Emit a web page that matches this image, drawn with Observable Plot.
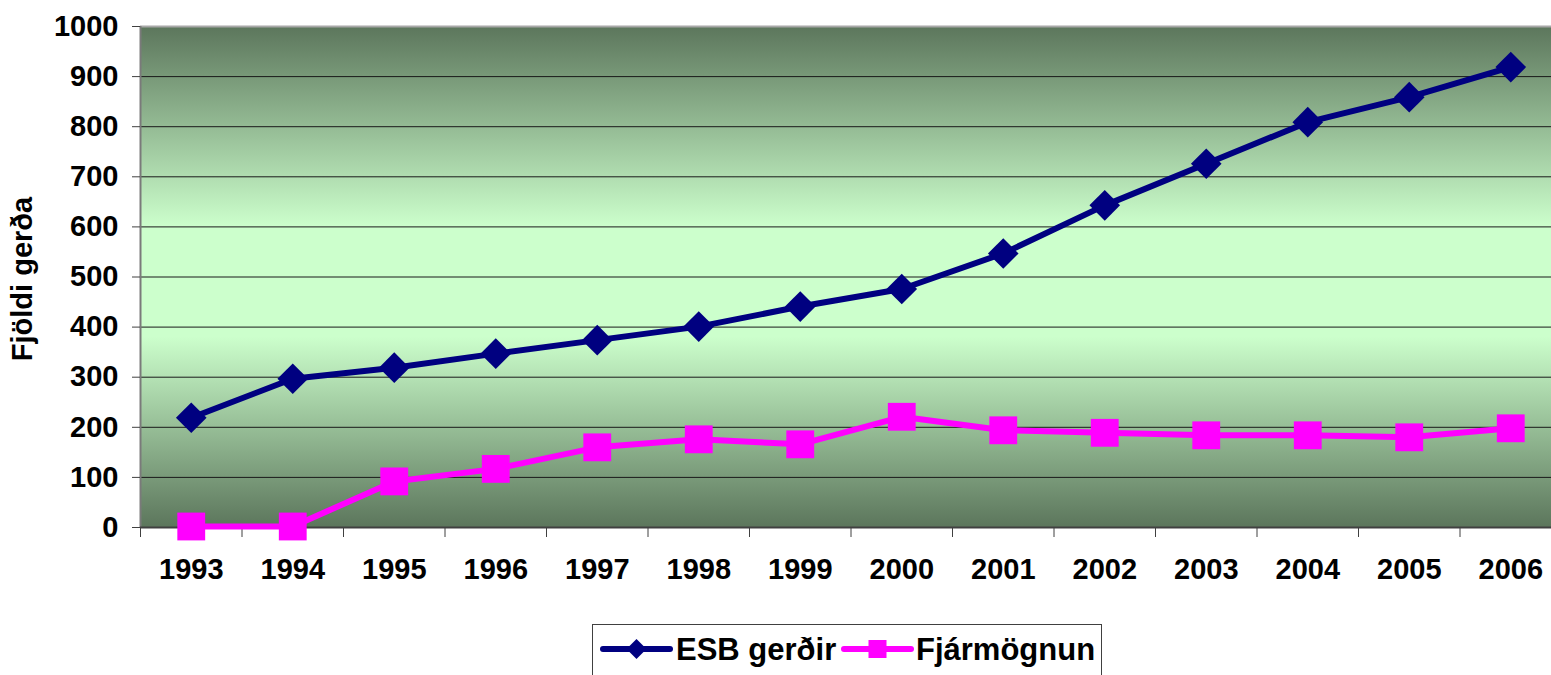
<!DOCTYPE html>
<html><head><meta charset="utf-8">
<script src="https://cdn.jsdelivr.net/npm/d3@7"></script>
<script src="https://cdn.jsdelivr.net/npm/@observablehq/plot@0.6"></script>
<style>
html,body{margin:0;padding:0;background:#fff;overflow:hidden;width:1551px;height:675px;}
#chart{position:absolute;left:0;top:0;width:1561px;}
#chart svg{max-width:none !important;}
#legend{position:absolute;left:0;top:0;}
</style></head><body>
<div id="chart"></div>
<div id="legend"></div>
<script>
const years = [1993,1994,1995,1996,1997,1998,1999,2000,2001,2002,2003,2004,2005,2006];
const esb   = [219,297,319,347,374,401,441,476,547,643,726,809,859,919];
const fjar  = [2,2,92,117,160,176,166,221,194,189,184,184,180,198];
const yTicks = [0,100,200,300,400,500,600,700,800,900,1000];
const seriesNames = ["ESB gerðir","Fjármögnun"];
const seriesColors = ["#000080","#ff00ff"];
const yLabel = "Fjöldi gerða";

const FONT = '"Liberation Sans", Arial, sans-serif';
const data = years.flatMap((yr, i) => [
  {year: yr, value: esb[i], series: seriesNames[0]},
  {year: yr, value: fjar[i], series: seriesNames[1]}
]);
const bounds = [...years.map(y => y - 0.5), years[years.length - 1] + 0.5];

const background = (index, scales, values, dims) => {
  const g = d3.create("svg:g");
  const lg = g.append("defs").append("linearGradient")
    .attr("id", "bggrad").attr("x1", 0).attr("y1", 0).attr("x2", 0).attr("y2", 1);
  [[0, "#5c765c"], [0.40, "#ccffcc"], [0.62, "#ccffcc"], [1, "#5c765c"]]
    .forEach(([o, c]) => lg.append("stop").attr("offset", o).attr("stop-color", c));
  g.append("rect")
    .attr("x", dims.marginLeft).attr("y", dims.marginTop)
    .attr("width", dims.width - dims.marginLeft - dims.marginRight)
    .attr("height", dims.height - dims.marginTop - dims.marginBottom)
    .attr("fill", "url(#bggrad)");
  return g.node();
};

const chart = Plot.plot({
  width: 1561, height: 610,
  marginLeft: 140, marginRight: 0, marginTop: 26, marginBottom: 83,
  style: {fontFamily: FONT, background: "#fff", color: "#000"},
  x: {type: "linear", domain: [bounds[0], bounds[bounds.length - 1]], axis: null},
  y: {domain: [0, 1000], axis: null},
  color: {domain: seriesNames, range: seriesColors},
  marks: [
    background,
    Plot.ruleY(yTicks.filter(d => d > 0 && d < 1000), {stroke: "#1a1a1a", strokeWidth: 1}),
    Plot.ruleY([1000], {stroke: "#a8a8a8", strokeWidth: 2}),
    Plot.ruleX([bounds[0]], {stroke: "#7a7a7a", strokeWidth: 2}),
    Plot.axisY({ticks: yTicks, tickSize: 8, tickPadding: 14, stroke: "#404040",
      fontSize: 29, fontWeight: "bold", fill: "#000", label: null, tickFormat: d => String(d)}),
    Plot.axisX({ticks: bounds, tickSize: 10, stroke: "#404040", tickFormat: () => "", label: null}),
    Plot.axisX({ticks: years, tickSize: 0, tickPadding: 31, fontSize: 29, fontWeight: "bold",
      fill: "#000", label: null, tickFormat: d => String(d)}),
    Plot.ruleY([0], {stroke: "#404040", strokeWidth: 2}),
    Plot.text([yLabel], {frameAnchor: "left", textAnchor: "middle", lineAnchor: "middle",
      rotate: -90, dx: -118, dy: 2, fontSize: 29, fontWeight: "bold", fill: "#000"}),
    Plot.line(data, {x: "year", y: "value", z: "series", stroke: "series", strokeWidth: 6}),
    Plot.dot(data.filter(d => d.series === seriesNames[0]),
      {x: "year", y: "value", symbol: "diamond2", r: 13.8, fill: seriesColors[0], stroke: null}),
    Plot.dot(data.filter(d => d.series === seriesNames[1]),
      {x: "year", y: "value", symbol: "square", r: 15.7, fill: seriesColors[1], stroke: null})
  ]
});
document.getElementById("chart").appendChild(chart);

// Legend (below the chart)
const leg = d3.select("#legend").append("svg")
  .attr("width", 1551).attr("height", 675)
  .style("font-family", FONT);
leg.append("rect").attr("x", 592.5).attr("y", 624.5).attr("width", 509).attr("height", 70)
  .attr("fill", "#fff").attr("stroke", "#404040").attr("stroke-width", 1);
const items = [
  {name: seriesNames[0], color: seriesColors[0], x0: 603, x1: 670, tx: 676, sym: "diamond"},
  {name: seriesNames[1], color: seriesColors[1], x0: 844, x1: 911, tx: 916, sym: "square"}
];
items.forEach(it => {
  leg.append("line").attr("x1", it.x0).attr("x2", it.x1).attr("y1", 649).attr("y2", 649)
    .attr("stroke", it.color).attr("stroke-width", 6).attr("stroke-linecap", "round");
  const cx = (it.x0 + it.x1) / 2;
  if (it.sym === "diamond") {
    leg.append("path").attr("d", `M${cx},${649-10}L${cx+10},649L${cx},${649+10}L${cx-10},649Z`).attr("fill", it.color);
  } else {
    leg.append("rect").attr("x", cx - 9).attr("y", 640).attr("width", 18).attr("height", 18).attr("fill", it.color);
  }
  leg.append("text").attr("x", it.tx).attr("y", 660).attr("font-size", 31).attr("font-weight", "bold")
    .attr("fill", "#000").text(it.name);
});
</script>
</body></html>
